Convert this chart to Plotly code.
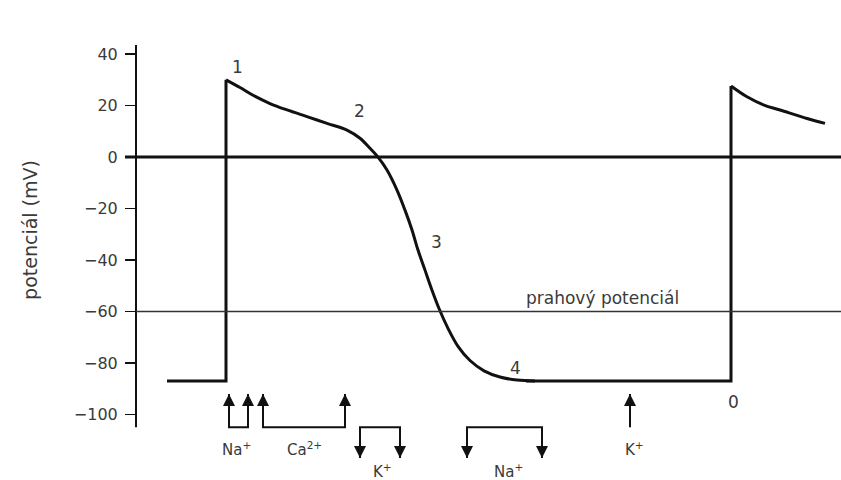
import plotly.graph_objects as go

# ---------------- data (time in ms, potential in mV) ----------------
rest_t = [-59, 0, 0]
rest_v = [-87, -87, 30]

ap1_t = [0, 14, 27, 44, 61, 81, 101, 121, 134, 144, 152, 161, 171, 179, 186, 192,
         199, 206, 213, 222, 232, 244, 258, 274, 291, 309]
ap1_v = [30, 27.0, 24.0, 20.8, 18.3, 15.7, 13.1, 10.5, 7.3, 3.4, 0, -5.0, -12.8,
         -20.6, -28.3, -36.1, -43.9, -51.7, -58.8, -66.5, -73.5, -79.0, -83.0,
         -85.4, -86.6, -87]

diast_t = [300, 505, 505]
diast_v = [-87, -87, 27.6]

ap2_t = [505, 521, 538, 554, 581, 599]
ap2_v = [27.6, 23.4, 20.2, 18.3, 15.0, 13.1]

threshold_mv = -60
y_ticks = [-100, -80, -60, -40, -20, 0, 20, 40]

phase_labels = ["1", "2", "3", "4", "0"]
phase_t = [11, 133, 210, 289, 507]
phase_v = [35, 17.9, -33, -82, -95.1]

# ion currents (time of channel events)
na_in_t = [3, 22]        # Na+ inward (up arrows)
ca_in_t = [37, 119]      # Ca2+ inward
k_out_t = [134, 174]     # K+ outward (down arrows)
na_late_t = [241, 316]   # Na+ (down arrows)
k_late_t = [404]         # K+ (up arrow)

ion_labels = ["Na<sup>+</sup>", "Ca<sup>2+</sup>", "K<sup>+</sup>", "Na<sup>+</sup>", "K<sup>+</sup>"]
ion_label_t = [10, 78, 156, 282, 408]

# ---------------- layout constants ----------------
X_RANGE = [-90, 615]
Y_RANGE = [-125.4, 61.0]
AXIS_TOP, AXIS_BOTTOM = 43.5, -104.9
ARROW_BASE = -104.9
UP_TIP = -92.0
DOWN_TIP = -116.9
LBL_UPPER = -113.4
LBL_LOWER = -122.0

FONT = "DejaVu Sans"
TXT = "#3a3a3a"
INK = "#111111"

fig = go.Figure()

curve = dict(color=INK, width=3)
fig.add_trace(go.Scatter(x=rest_t, y=rest_v, mode="lines", line=curve, hoverinfo="skip"))
fig.add_trace(go.Scatter(x=ap1_t, y=ap1_v, mode="lines",
                         line=dict(color=INK, width=3, shape="spline", smoothing=1.0),
                         hoverinfo="skip"))
fig.add_trace(go.Scatter(x=diast_t, y=diast_v, mode="lines", line=curve, hoverinfo="skip"))
fig.add_trace(go.Scatter(x=ap2_t, y=ap2_v, mode="lines",
                         line=dict(color=INK, width=3, shape="spline", smoothing=1.0),
                         hoverinfo="skip"))

# brackets + arrow shafts
arrow_line = dict(color=INK, width=2)

def bracket(ts, up):
    tip = UP_TIP if up else DOWN_TIP
    if len(ts) == 2:
        a, b = ts
        xs, ys = [a, a, b, b], [tip, ARROW_BASE, ARROW_BASE, tip]
    else:
        xs, ys = [ts[0], ts[0]], [ARROW_BASE, tip]
    fig.add_trace(go.Scatter(x=xs, y=ys, mode="lines", line=arrow_line, hoverinfo="skip"))
    fig.add_trace(go.Scatter(x=ts, y=[tip] * len(ts), mode="markers", hoverinfo="skip",
                             marker=dict(symbol="arrow-up" if up else "arrow-down",
                                         size=12, color=INK, line=dict(width=0))))

bracket(na_in_t, True)
bracket(ca_in_t, True)
bracket(k_out_t, False)
bracket(na_late_t, False)
bracket(k_late_t, True)

annotations = []
ion_label_v = [LBL_UPPER, LBL_UPPER, LBL_LOWER, LBL_LOWER, LBL_UPPER]
for lbl, t, v in zip(ion_labels, ion_label_t, ion_label_v):
    annotations.append(dict(x=t, y=v, xref="x", yref="y", text=lbl, showarrow=False,
                            font=dict(family=FONT, size=15, color=TXT)))

for lbl, t, v in zip(phase_labels, phase_t, phase_v):
    annotations.append(dict(x=t, y=v, xref="x", yref="y", text=lbl, showarrow=False,
                            font=dict(family=FONT, size=17, color=TXT)))

annotations.append(dict(x=376, y=-54.8, xref="x", yref="y", text="prahový potenciál",
                        showarrow=False, font=dict(family=FONT, size=17, color=TXT)))

annotations.append(dict(x=-0.1504, y=-28.3, xref="paper", yref="y",
                        xanchor="center", yanchor="middle",
                        text="potenciál (mV)", textangle=-90, showarrow=False,
                        font=dict(family=FONT, size=19, color=TXT)))

shapes = [
    # y axis line
    dict(type="line", xref="paper", yref="y", x0=0, x1=0, y0=AXIS_BOTTOM, y1=AXIS_TOP,
         line=dict(color=INK, width=2)),
    # zero line
    dict(type="line", xref="paper", yref="y", x0=-0.0156, x1=1, y0=0, y1=0,
         line=dict(color=INK, width=3)),
    # threshold line
    dict(type="line", xref="paper", yref="y", x0=0, x1=1, y0=threshold_mv, y1=threshold_mv,
         line=dict(color="#333333", width=1.5)),
]

fig.update_layout(
    width=841, height=480,
    margin=dict(l=136, r=0, t=0, b=0),
    paper_bgcolor="white", plot_bgcolor="white",
    showlegend=False,
    xaxis=dict(range=X_RANGE, visible=False, fixedrange=True),
    yaxis=dict(range=Y_RANGE, tickvals=y_ticks, showgrid=False, zeroline=False,
               showline=False, ticks="outside", ticklen=10, tickwidth=1.5,
               tickcolor=INK, ticklabelstandoff=4,
               tickfont=dict(family=FONT, size=16, color=TXT), fixedrange=True),
    annotations=annotations,
    shapes=shapes,
)

fig.write_html("out.html", config={"staticPlot": True},
               post_script="document.body.style.margin='0';")
